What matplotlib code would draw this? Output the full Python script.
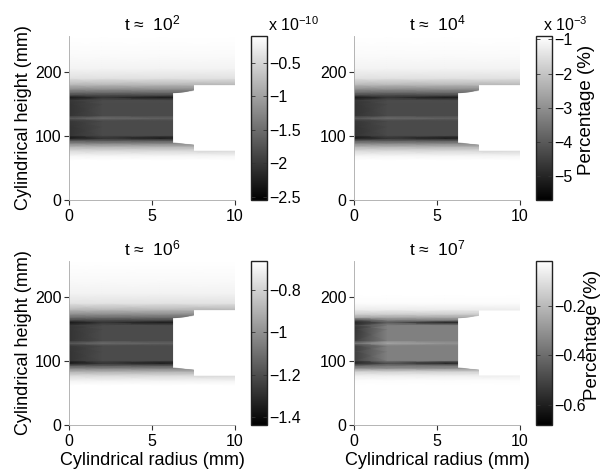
import numpy as np
import matplotlib
matplotlib.use('Agg')
import matplotlib.pyplot as plt
from matplotlib.patches import Polygon
from matplotlib.ticker import FuncFormatter

plt.rcParams['font.family'] = ['Liberation Sans', 'DejaVu Sans']
plt.rcParams['mathtext.fontset'] = 'custom'
plt.rcParams['mathtext.rm'] = 'Liberation Sans'
plt.rcParams['mathtext.it'] = 'Liberation Sans:italic'
plt.rcParams['mathtext.bf'] = 'Liberation Sans:bold'

# mesh nodes (mm): radial columns are axis / mid / edge of the core
radius_nodes = [0, 2, 5.5, 10]
height_nodes = [0, 62, 70, 78, 84, 89, 93, 97, 101, 115, 124, 128, 132, 150,
                156, 160, 164, 168, 173, 180, 190, 205, 225, 256]

# outline of the modelled domain (radius, height)
domain_r = [10, 10, 7.5, 7.5, 7.0, 6.25, 6.25, 7.0, 7.5, 7.5, 10, 10, 0, 0]
domain_h = [256, 180, 180, 171, 169, 167, 89.5, 87, 86, 76, 76, 0, 0, 256]

titles = ['t ≈  $\\mathregular{10^{2}}$', 't ≈  $\\mathregular{10^{4}}$',
          't ≈  $\\mathregular{10^{6}}$', 't ≈  $\\mathregular{10^{7}}$']

# t ~ 1e2  (x 1e-10)
p1_axis = [-0.10, -0.10, -0.22, -0.52, -0.88, -1.33, -1.69, -2.35, -2.06, -2.06, -2.01, -1.69,
           -2.06, -2.06, -2.01, -2.35, -1.82, -1.52, -1.20, -0.79, -0.39, -0.22, -0.15, -0.10]
p1_mid = [-0.10, -0.10, -0.22, -0.52, -0.88, -1.33, -1.69, -2.06, -1.84, -1.84, -1.84, -1.52,
          -1.84, -1.84, -1.82, -2.06, -1.82, -1.52, -1.20, -0.79, -0.39, -0.22, -0.15, -0.10]
p1_edge = [-0.10, -0.10, -0.22, -0.52, -0.88, -1.33, -1.69, -2.31, -1.84, -1.84, -1.84, -1.62,
           -1.84, -1.84, -1.82, -2.31, -1.82, -1.52, -1.20, -0.79, -0.39, -0.22, -0.15, -0.10]

# t ~ 1e4  (x 1e-3)
p2_axis = [-0.90, -0.90, -1.14, -1.72, -2.44, -3.30, -4.02, -5.32, -4.74, -4.74, -4.64, -4.02,
           -4.74, -4.74, -4.64, -5.32, -4.26, -3.68, -3.06, -2.24, -1.48, -1.14, -1.00, -0.90]
p2_mid = [-0.90, -0.90, -1.14, -1.72, -2.44, -3.30, -4.02, -4.74, -4.31, -4.31, -4.31, -3.68,
          -4.31, -4.31, -4.26, -4.74, -4.26, -3.68, -3.06, -2.24, -1.48, -1.14, -1.00, -0.90]
p2_edge = [-0.90, -0.90, -1.14, -1.72, -2.44, -3.30, -4.02, -5.22, -4.31, -4.31, -4.31, -3.88,
           -4.31, -4.31, -4.26, -5.22, -4.26, -3.68, -3.06, -2.24, -1.48, -1.14, -1.00, -0.90]

# t ~ 1e6
p3_axis = [-0.66, -0.66, -0.70, -0.79, -0.91, -1.05, -1.17, -1.38, -1.28, -1.28, -1.27, -1.17,
           -1.28, -1.28, -1.27, -1.38, -1.21, -1.11, -1.01, -0.88, -0.75, -0.70, -0.68, -0.66]
p3_mid = [-0.66, -0.66, -0.70, -0.79, -0.91, -1.05, -1.17, -1.28, -1.21, -1.21, -1.21, -1.11,
          -1.21, -1.21, -1.21, -1.28, -1.21, -1.11, -1.01, -0.88, -0.75, -0.70, -0.68, -0.66]
p3_edge = [-0.66, -0.66, -0.70, -0.79, -0.91, -1.05, -1.17, -1.36, -1.21, -1.21, -1.21, -1.14,
           -1.21, -1.21, -1.21, -1.36, -1.21, -1.11, -1.01, -0.88, -0.75, -0.70, -0.68, -0.66]

# t ~ 1e7
p4_axis = [-0.02, -0.02, -0.03, -0.07, -0.15, -0.32, -0.42, -0.60, -0.52, -0.52, -0.52, -0.38,
           -0.53, -0.55, -0.53, -0.60, -0.48, -0.25, -0.15, -0.07, -0.03, -0.02, -0.02, -0.02]
p4_mid = [-0.02, -0.02, -0.03, -0.07, -0.15, -0.32, -0.38, -0.48, -0.35, -0.35, -0.35, -0.25,
          -0.35, -0.35, -0.35, -0.45, -0.35, -0.25, -0.15, -0.07, -0.03, -0.02, -0.02, -0.02]
p4_edge = [-0.02, -0.02, -0.03, -0.07, -0.15, -0.32, -0.38, -0.60, -0.35, -0.35, -0.35, -0.30,
           -0.35, -0.35, -0.35, -0.60, -0.35, -0.25, -0.15, -0.07, -0.03, -0.02, -0.02, -0.02]

profiles = [(p1_axis, p1_mid, p1_edge), (p2_axis, p2_mid, p2_edge),
            (p3_axis, p3_mid, p3_edge), (p4_axis, p4_mid, p4_edge)]
color_limits = [(-2.55, -0.10), (-5.7, -0.9), (-1.44, -0.66), (-0.68, -0.02)]
cbar_ticks = [[-2.5, -2, -1.5, -1, -0.5], [-5, -4, -3, -2, -1],
              [-1.4, -1.2, -1, -0.8], [-0.6, -0.4, -0.2]]
cbar_exponent = ['x $\\mathregular{10^{-10}}$', 'x $\\mathregular{10^{-3}}$', None, None]

W, H = 614.0, 470.0
def box(left, top, w, h):
    return [left / W, (H - top - h) / H, w / W, h / H]

fig = plt.figure(figsize=(6.14, 4.70), dpi=100)

lefts = [69, 354, 69, 354]
tops = [36, 36, 261, 261]
cax_lefts = [251, 536, 251, 536]

X, Y = np.meshgrid(radius_nodes, height_nodes)
fmt = FuncFormatter(lambda v, pos: ('%g' % v).replace('-', '\u2212'))

for i in range(4):
    ax = fig.add_axes(box(lefts[i], tops[i], 166, 164))
    cax = fig.add_axes(box(cax_lefts[i], tops[i], 16, 164))
    axis_p, mid_p, edge_p = profiles[i]
    Z = np.column_stack([axis_p, mid_p, edge_p, edge_p])
    vmin, vmax = color_limits[i]

    ax.plot(domain_r[:-2], domain_h[:-2], color='#c8c8c8', lw=0.7, zorder=1)
    mesh = ax.pcolormesh(X, Y, Z, shading='gouraud', cmap='gray', vmin=vmin, vmax=vmax, zorder=2)
    clip = Polygon(np.column_stack([domain_r, domain_h]), closed=True, transform=ax.transData)
    mesh.set_clip_path(clip)

    ax.set_xlim(0, 10)
    ax.set_ylim(0, 256)
    ax.set_xticks([0, 5, 10])
    ax.set_yticks([0, 100, 200])
    for s in ['top', 'right']:
        ax.spines[s].set_visible(False)
    for s in ['left', 'bottom']:
        ax.spines[s].set_color('#a8a8a8')
        ax.spines[s].set_linewidth(0.6)
    ax.tick_params(direction='out', length=3.5, width=0.8, color='#333333', labelsize=11.5)
    ax.tick_params(axis='y', pad=2)
    ax.tick_params(axis='x', pad=3)
    ax.set_title(titles[i], fontsize=12.5, pad=4)

    if i % 2 == 0:
        ax.set_ylabel('Cylindrical height (mm)', fontsize=13)
        ax.yaxis.set_label_coords(-0.223, 0.5)
    if i >= 2:
        ax.set_xlabel('Cylindrical radius (mm)', fontsize=13)
        ax.xaxis.set_label_coords(0.5, -0.163)

    cb = fig.colorbar(mesh, cax=cax, ticks=cbar_ticks[i], format=fmt)
    cb.outline.set_linewidth(1.0)
    cb.outline.set_edgecolor('#222222')
    cax.tick_params(direction='in', length=3, width=0.6, left=True, right=True,
                    color='#333333', labelsize=11.5, pad=1.5)
    if cbar_exponent[i]:
        x0 = 1.06 if i == 0 else 0.44
        cax.text(x0, 1.03, cbar_exponent[i], transform=cax.transAxes,
                 ha='left', va='baseline', fontsize=11.5)
    if i % 2 == 1:
        cax.set_ylabel('Percentage (%)', fontsize=13.5)
        cax.yaxis.set_label_coords(2.6 if i == 1 else 3.0, 0.55)

fig.savefig('out.png', dpi=100)
